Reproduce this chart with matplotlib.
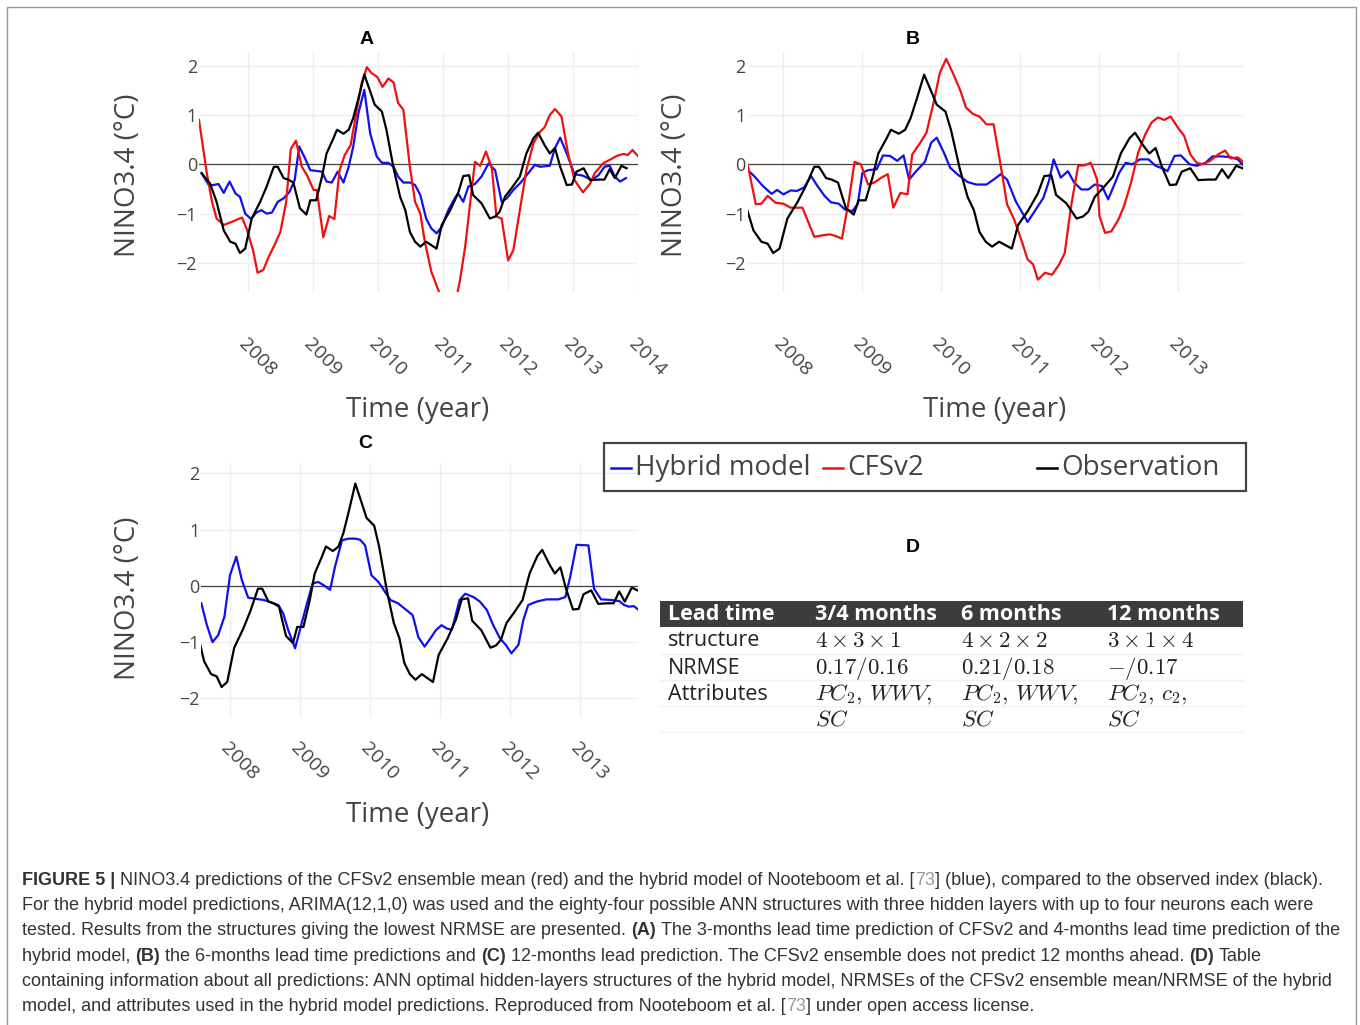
import matplotlib
matplotlib.use("Agg")
import matplotlib.pyplot as plt
from matplotlib.patches import Rectangle
from matplotlib.lines import Line2D

W, H = 1360, 1025

# observed NINO3.4 index (shared by all three panels)
obs_t = [2007.29, 2007.42, 2007.52, 2007.63, 2007.73, 2007.81, 2007.88, 2007.96,
         2008.06, 2008.19, 2008.29, 2008.40, 2008.46, 2008.55, 2008.62, 2008.70, 2008.80, 2008.90, 2008.96,
         2009.05, 2009.14, 2009.21, 2009.31, 2009.37, 2009.47, 2009.55, 2009.62, 2009.70, 2009.79, 2009.88, 2009.95,
         2010.06, 2010.13, 2010.24, 2010.34, 2010.42, 2010.49, 2010.57, 2010.65, 2010.74, 2010.82, 2010.90, 2010.98,
         2011.11, 2011.23, 2011.31, 2011.40, 2011.46, 2011.59, 2011.72, 2011.80, 2011.87, 2011.95,
         2012.05, 2012.18, 2012.28, 2012.39, 2012.46, 2012.56, 2012.64, 2012.72, 2012.80, 2012.90, 2012.98,
         2013.05, 2013.16, 2013.26, 2013.39, 2013.48, 2013.56, 2013.64, 2013.74, 2013.82]
obs_v = [-0.18, -0.39, -0.76, -1.34, -1.57, -1.61, -1.80, -1.71,
         -1.10, -0.76, -0.45, -0.05, -0.05, -0.28, -0.31, -0.37, -0.89, -1.02, -0.73,
         -0.73, -0.25, 0.22, 0.51, 0.70, 0.62, 0.70, 0.94, 1.34, 1.82, 1.48, 1.21,
         1.07, 0.70, -0.08, -0.66, -0.93, -1.37, -1.57, -1.67, -1.57, -1.64, -1.71, -1.23,
         -0.93, -0.59, -0.24, -0.22, -0.62, -0.79, -1.10, -1.06, -0.96, -0.66,
         -0.49, -0.25, 0.22, 0.53, 0.64, 0.39, 0.22, 0.33, -0.05, -0.42, -0.41,
         -0.15, -0.08, -0.32, -0.31, -0.31, -0.10, -0.28, -0.03, -0.08]

# panel A: CFSv2 3-month lead, hybrid 4-month lead
cfs_a_t = [2007.25, 2007.31, 2007.37, 2007.45, 2007.52, 2007.63, 2007.75, 2007.91, 2007.98,
           2008.08, 2008.15, 2008.24, 2008.32, 2008.42, 2008.50, 2008.59, 2008.66, 2008.74, 2008.83, 2008.91,
           2009.01, 2009.06, 2009.16, 2009.25, 2009.33, 2009.41, 2009.49, 2009.58, 2009.67, 2009.75, 2009.83, 2009.90, 2009.99,
           2010.07, 2010.16, 2010.24, 2010.31, 2010.39, 2010.49, 2010.57, 2010.65, 2010.72, 2010.82, 2010.93,
           2011.03, 2011.12, 2011.20, 2011.26, 2011.34, 2011.41, 2011.49, 2011.57, 2011.66, 2011.75, 2011.82, 2011.90,
           2012.00, 2012.08, 2012.18, 2012.28, 2012.39, 2012.49, 2012.56, 2012.64, 2012.72, 2012.82, 2012.92,
           2013.02, 2013.15, 2013.26, 2013.33, 2013.46, 2013.56, 2013.67, 2013.77, 2013.84, 2013.91, 2014.00]
cfs_a_v = [0.90, 0.36, -0.18, -0.76, -1.10, -1.23, -1.17, -1.08, -1.30,
           -1.74, -2.20, -2.14, -1.88, -1.61, -1.37, -0.76, 0.31, 0.48, -0.05, -0.22,
           -0.52, -0.52, -1.48, -1.05, -1.11, -0.12, 0.19, 0.39, 1.07, 1.65, 1.97, 1.85, 1.77,
           1.57, 1.74, 1.66, 1.24, 1.11, -0.05, -0.76, -1.00, -1.57, -2.18, -2.56,
           -2.85, -2.95, -2.75, -2.35, -1.67, -0.86, 0.05, -0.03, 0.26, -0.08, -1.06, -1.10,
           -1.95, -1.74, -0.93, -0.12, 0.43, 0.66, 0.75, 1.00, 1.12, 0.97, 0.22,
           -0.32, -0.57, -0.39, -0.18, 0.02, 0.09, 0.17, 0.21, 0.19, 0.29, 0.16]
hyb_a_t = [2007.29, 2007.40, 2007.47, 2007.55, 2007.63, 2007.72, 2007.81, 2007.88, 2007.96,
           2008.05, 2008.13, 2008.21, 2008.29, 2008.37, 2008.46, 2008.55, 2008.64, 2008.72, 2008.79, 2008.88, 2008.96,
           2009.03, 2009.14, 2009.21, 2009.29, 2009.38, 2009.47, 2009.55, 2009.62, 2009.70, 2009.79, 2009.88, 2009.98,
           2010.06, 2010.16, 2010.24, 2010.31, 2010.39, 2010.49, 2010.57, 2010.65, 2010.74, 2010.82, 2010.90, 2010.98,
           2011.08, 2011.18, 2011.23, 2011.31, 2011.39, 2011.49, 2011.59, 2011.70, 2011.80, 2011.90, 2011.98,
           2012.08, 2012.18, 2012.31, 2012.41, 2012.49, 2012.64, 2012.72, 2012.80, 2012.90,
           2013.02, 2013.15, 2013.28, 2013.39, 2013.48, 2013.56, 2013.64, 2013.72, 2013.81]
hyb_a_v = [-0.18, -0.42, -0.42, -0.40, -0.58, -0.35, -0.59, -0.66, -1.00,
           -1.11, -0.98, -0.93, -1.00, -0.98, -0.76, -0.69, -0.56, -0.32, 0.36, 0.12, -0.12,
           -0.13, -0.15, -0.35, -0.37, -0.15, -0.37, -0.05, 0.36, 1.04, 1.51, 0.63, 0.16,
           0.03, 0.03, -0.05, -0.25, -0.37, -0.37, -0.42, -0.62, -1.10, -1.30, -1.40, -1.27,
           -0.93, -0.69, -0.59, -0.76, -0.45, -0.40, -0.25, 0.02, -0.12, -0.76, -0.69,
           -0.52, -0.39, -0.18, -0.01, -0.05, -0.03, 0.33, 0.54, 0.22,
           -0.20, -0.23, -0.32, -0.22, -0.05, -0.03, -0.25, -0.35, -0.28]

# panel B: 6-month lead
cfs_b_t = [2007.56, 2007.66, 2007.73, 2007.81, 2007.91,
           2008.01, 2008.10, 2008.25, 2008.40, 2008.51, 2008.60, 2008.68, 2008.75, 2008.84, 2008.91, 2008.99,
           2009.08, 2009.16, 2009.25, 2009.33, 2009.40, 2009.49, 2009.58, 2009.64, 2009.73, 2009.82, 2009.91, 2009.99,
           2010.07, 2010.16, 2010.25, 2010.32, 2010.41, 2010.49, 2010.58, 2010.67, 2010.76, 2010.84, 2010.93,
           2011.02, 2011.10, 2011.17, 2011.23, 2011.32, 2011.41, 2011.50, 2011.57, 2011.65, 2011.74, 2011.82, 2011.90, 2011.98,
           2012.01, 2012.08, 2012.16, 2012.25, 2012.32, 2012.41, 2012.50, 2012.59, 2012.67, 2012.75, 2012.83, 2012.91,
           2013.00, 2013.08, 2013.16, 2013.24, 2013.32, 2013.41, 2013.51, 2013.60, 2013.67, 2013.76, 2013.83]
cfs_b_v = [-0.03, -0.81, -0.80, -0.64, -0.78,
           -0.80, -0.88, -0.88, -1.47, -1.44, -1.42, -1.46, -1.51, -0.71, 0.05, 0.00,
           -0.41, -0.37, -0.27, -0.20, -0.88, -0.58, -0.61, 0.20, 0.41, 0.64, 1.25, 1.86,
           2.14, 1.83, 1.49, 1.15, 1.02, 0.97, 0.81, 0.81, -0.03, -0.81, -1.12,
           -1.53, -1.93, -2.03, -2.34, -2.20, -2.24, -2.03, -1.80, -0.85, -0.03, -0.02, 0.03, -0.31,
           -1.05, -1.39, -1.36, -1.12, -0.85, -0.37, 0.24, 0.61, 0.85, 0.95, 0.90, 0.97,
           0.75, 0.58, 0.20, 0.03, 0.00, 0.07, 0.20, 0.28, 0.12, 0.14, 0.05]
hyb_b_t = [2007.56, 2007.64, 2007.75, 2007.86, 2007.93,
           2008.01, 2008.10, 2008.18, 2008.27, 2008.36, 2008.44, 2008.53, 2008.61, 2008.71, 2008.79, 2008.88, 2008.95,
           2009.01, 2009.08, 2009.19, 2009.27, 2009.36, 2009.45, 2009.53, 2009.60, 2009.69, 2009.80, 2009.88, 2009.95,
           2010.04, 2010.12, 2010.21, 2010.34, 2010.45, 2010.58, 2010.67, 2010.76, 2010.84, 2010.95,
           2011.10, 2011.19, 2011.30, 2011.37, 2011.43, 2011.52, 2011.61, 2011.69, 2011.78, 2011.87, 2011.95,
           2012.04, 2012.12, 2012.19, 2012.26, 2012.34, 2012.43, 2012.52, 2012.63, 2012.72, 2012.83, 2012.87, 2012.96,
           2013.04, 2013.15, 2013.24, 2013.35, 2013.44, 2013.57, 2013.68, 2013.76, 2013.83]
hyb_b_v = [-0.12, -0.24, -0.44, -0.60, -0.52,
           -0.61, -0.53, -0.54, -0.47, -0.24, -0.44, -0.64, -0.77, -0.80, -0.92, -0.95, -0.81,
           -0.17, -0.12, -0.10, 0.18, 0.17, 0.07, 0.18, -0.31, -0.14, 0.05, 0.44, 0.54,
           0.24, -0.07, -0.20, -0.36, -0.41, -0.41, -0.31, -0.20, -0.31, -0.75,
           -1.17, -0.95, -0.68, -0.34, 0.10, -0.27, -0.14, -0.37, -0.51, -0.51, -0.41,
           -0.44, -0.71, -0.44, -0.17, 0.03, 0.00, 0.10, 0.10, -0.03, -0.10, -0.14, 0.17,
           0.18, 0.00, -0.03, 0.03, 0.16, 0.16, 0.14, 0.10, -0.02]

# panel C: 12-month lead (hybrid only)
hyb_c_t = [2007.59, 2007.67, 2007.75, 2007.83, 2007.92,
           2008.00, 2008.09, 2008.17, 2008.26, 2008.36, 2008.48, 2008.60, 2008.69, 2008.76, 2008.83, 2008.93,
           2009.01, 2009.10, 2009.18, 2009.26, 2009.34, 2009.43, 2009.50, 2009.60, 2009.69, 2009.79, 2009.86, 2009.93,
           2010.02, 2010.12, 2010.20, 2010.29, 2010.40, 2010.52, 2010.61, 2010.69, 2010.78, 2010.86, 2010.94,
           2011.02, 2011.10, 2011.17, 2011.28, 2011.36, 2011.48, 2011.57, 2011.67, 2011.76, 2011.86, 2011.94,
           2012.02, 2012.12, 2012.19, 2012.26, 2012.38, 2012.52, 2012.69, 2012.79, 2012.86, 2012.95,
           2013.12, 2013.20, 2013.30, 2013.44, 2013.56, 2013.63, 2013.70, 2013.77, 2013.83]
hyb_c_v = [-0.31, -0.70, -1.00, -0.88, -0.55,
           0.19, 0.52, 0.10, -0.21, -0.23, -0.25, -0.30, -0.34, -0.49, -0.78, -1.11,
           -0.73, -0.31, 0.04, 0.07, 0.01, -0.07, 0.34, 0.81, 0.84, 0.84, 0.82, 0.72,
           0.19, 0.07, -0.08, -0.25, -0.31, -0.43, -0.52, -0.91, -1.08, -0.94, -0.79,
           -0.70, -0.76, -0.78, -0.25, -0.14, -0.20, -0.28, -0.43, -0.70, -0.94, -1.05,
           -1.20, -1.05, -0.61, -0.34, -0.28, -0.24, -0.24, -0.20, 0.16, 0.73,
           0.72, -0.05, -0.24, -0.25, -0.27, -0.34, -0.37, -0.36, -0.42]

years_a = [2008, 2009, 2010, 2011, 2012, 2013, 2014]
years_bc = [2008, 2009, 2010, 2011, 2012, 2013]
y_ticks = [-2, -1, 0, 1, 2]
y_tick_labels = ["\u22122", "\u22121", "0", "1", "2"]

legend_names = ["Hybrid model", "CFSv2", "Observation"]

table_header = ["Lead time", "3/4 months", "6 months", "12 months"]
table_rows = [
    ["structure", r"$4\times3\times1$", r"$4\times2\times2$", r"$3\times1\times4$"],
    ["NRMSE", r"$0.17/0.16$", r"$0.21/0.18$", r"$-/0.17$"],
    ["Attributes", r"$PC_2,\,WWV,$", r"$PC_2,\,WWV,$", r"$PC_2,\,c_2,$"],
    ["", r"$SC$", r"$SC$", r"$SC$"],
]

BLUE, RED, BLACK = "#1010ee", "#f01010", "#000000"
INK = "#444444"
GRID = "#eeeeee"
TXT = "#333333"
LINK = "#9a9a9a"

plt.rcParams["font.family"] = ["Open Sans", "DejaVu Sans"]
plt.rcParams["mathtext.fontset"] = "cm"

fig = plt.figure(figsize=(W / 100, H / 100), dpi=100)


def fx(x):
    return x / W


def fy(y):
    return 1 - y / H


def panel(x0, x1, ytop, ybot, xlim, ylim, years, series, xpad):
    ax = fig.add_axes([fx(x0), fy(ybot), (x1 - x0) / W, (ybot - ytop) / H])
    for t, v, c in series:
        ax.plot(t, v, color=c, lw=1.6, zorder=3)
    ax.axhline(0, color=INK, lw=0.9, zorder=2)
    ax.set_xlim(*xlim)
    ax.set_ylim(*ylim)
    ax.set_xticks(years)
    ax.set_xticklabels([str(y) for y in years], rotation=-45, ha="left", va="top",
                       rotation_mode="anchor", fontsize=14, color=INK)
    ax.set_yticks(y_ticks)
    ax.set_yticklabels(y_tick_labels, fontsize=13, color=INK)
    ax.tick_params(axis="x", length=0, pad=xpad)
    ax.tick_params(axis="y", length=0, pad=1.5)
    ax.grid(True, color=GRID, lw=1.0, zorder=0)
    for s in ax.spines.values():
        s.set_visible(False)
    ax.set_facecolor("none")
    return ax


panel(199, 638.3, 51.7, 291.7, (2007.25, 2014.0), (-2.584, 2.284), years_a,
      [(hyb_a_t, hyb_a_v, BLUE), (cfs_a_t, cfs_a_v, RED), (obs_t, obs_v, BLACK)], 31)
panel(747.9, 1243.3, 51.7, 291.7, (2007.56, 2013.83), (-2.584, 2.284), years_bc,
      [(hyb_b_t, hyb_b_v, BLUE), (cfs_b_t, cfs_b_v, RED), (obs_t, obs_v, BLACK)], 31)
panel(201.3, 638.1, 463.3, 718, (2007.59, 2013.83), (-2.35, 2.18), years_bc,
      [(hyb_c_t, hyb_c_v, BLUE), (obs_t, obs_v, BLACK)], 15)

# axis titles and panel letters
for (x, y) in [(128, 175), (675, 175), (128, 598)]:
    fig.text(fx(x), fy(y), "NINO3.4 (°C)", rotation=90, ha="center", va="center",
             fontsize=20, color=INK)
for (x, y) in [(418, 410), (995, 410), (418, 815)]:
    fig.text(fx(x), fy(y), "Time (year)", ha="center", va="center", fontsize=20, color=INK)
for lab, (x, y) in zip("ABCD", [(367, 40), (913, 40), (365, 444), (913, 547)]):
    fig.text(fx(x), fy(y), lab, ha="center", va="center", fontsize=14, fontweight="bold",
             family="Liberation Sans", color="black")

# legend
fig.add_artist(Rectangle((fx(604), fy(491)), (1246 - 604) / W, (491 - 443) / H,
                         transform=fig.transFigure, fill=False, ec=INK, lw=1.6))
for name, col, xs in zip(legend_names, [BLUE, RED, BLACK], [611, 823, 1037]):
    fig.add_artist(Line2D([fx(xs), fx(xs + 20)], [fy(468), fy(468)], transform=fig.transFigure,
                          color=col, lw=1.8))
    fig.text(fx(xs + 24), fy(468), name, ha="left", va="center", fontsize=20, color=INK)

# table D
col_x = [668, 815, 961, 1107]
fig.add_artist(Rectangle((fx(660), fy(627)), (1243 - 660) / W, (627 - 601) / H,
                         transform=fig.transFigure, fc="#3c3c3c", ec="none"))
for txt, x in zip(table_header, col_x):
    fig.text(fx(x), fy(614), txt, ha="left", va="center", fontsize=15.5, fontweight="bold",
             color="white")
row_y = [641, 668, 694, 720]
for row, y in zip(table_rows, row_y):
    for j, (txt, x) in enumerate(zip(row, col_x)):
        if txt:
            fig.text(fx(x), fy(y), txt, ha="left", va="center",
                     fontsize=15.5 if j == 0 else 16.5, color="#222222")
for y in [654, 680, 706, 732]:
    fig.add_artist(Line2D([fx(660), fx(1243)], [fy(y), fy(y)], transform=fig.transFigure,
                          color="#f2f2f2", lw=1))

# caption
caption_lines = [
    [("FIGURE 5 |", "bold", TXT),
     (" NINO3.4 predictions of the CFSv2 ensemble mean (red) and the hybrid model of Nooteboom et al. [", "normal", TXT),
     ("73", "normal", LINK), ("] (blue), compared to the observed index (black).", "normal", TXT)],
    [("For the hybrid model predictions, ARIMA(12,1,0) was used and the eighty-four possible ANN structures with three hidden layers with up to four neurons each were", "normal", TXT)],
    [("tested. Results from the structures giving the lowest NRMSE are presented. ", "normal", TXT),
     ("(A)", "bold", TXT),
     (" The 3-months lead time prediction of CFSv2 and 4-months lead time prediction of the", "normal", TXT)],
    [("hybrid model, ", "normal", TXT), ("(B)", "bold", TXT),
     (" the 6-months lead time predictions and ", "normal", TXT), ("(C)", "bold", TXT),
     (" 12-months lead prediction. The CFSv2 ensemble does not predict 12 months ahead. ", "normal", TXT),
     ("(D)", "bold", TXT), (" Table", "normal", TXT)],
    [("containing information about all predictions: ANN optimal hidden-layers structures of the hybrid model, NRMSEs of the CFSv2 ensemble mean/NRMSE of the hybrid", "normal", TXT)],
    [("model, and attributes used in the hybrid model predictions. Reproduced from Nooteboom et al. [", "normal", TXT),
     ("73", "normal", LINK), ("] under open access license.", "normal", TXT)],
]

renderer = fig.canvas.get_renderer()
CAP_SIZE = 12.95


def width_of(s, weight):
    t = fig.text(0, 0, s, fontsize=CAP_SIZE, family="Liberation Sans", fontweight=weight)
    w = t.get_window_extent(renderer).width
    t.remove()
    return w


space_w = width_of("a a", "normal") - width_of("aa", "normal")

for i, runs in enumerate(caption_lines):
    x = 22
    y = 885 + i * 25.2
    for txt, weight, col in runs:
        lead = len(txt) - len(txt.lstrip(" "))
        trail = len(txt) - len(txt.rstrip(" "))
        core = txt.strip(" ")
        x += lead * space_w
        t = fig.text(fx(x), fy(y), core, ha="left", va="baseline", fontsize=CAP_SIZE,
                     family="Liberation Sans", fontweight=weight, color=col)
        x = t.get_window_extent(renderer).x1 + trail * space_w

# outer frame
fig.add_artist(Rectangle((fx(7), fy(1030)), (1356 - 7) / W, (1030 - 7) / H,
                         transform=fig.transFigure, fill=False, ec="#9a9a9a", lw=1))

fig.savefig("out.png", dpi=100)
